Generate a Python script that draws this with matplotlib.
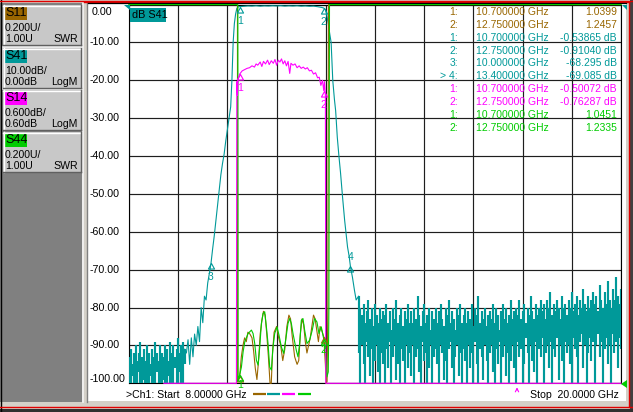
import numpy as np
import matplotlib.pyplot as plt
from matplotlib.patches import Rectangle, Polygon
from matplotlib.path import Path

plt.rcParams['font.family'] = ['Liberation Sans', 'DejaVu Sans']

W, H = 633, 412

# trace colours
C_S11, C_S41, C_S14, C_S44 = '#996600', '#009999', '#ff00ff', '#00cc00'

f_start, f_stop = 8.0, 20.0

# channel buttons on the left
ch_names = ['S11', 'S41', 'S14', 'S44']
ch_colors = [C_S11, C_S41, C_S14, C_S44]
ch_scale = ['0.200U/', '10.00dB/', '0.600dB/', '0.200U/']
ch_ref = ['1.00U', '0.00dB', '0.60dB', '1.00U']
ch_fmt = ['SWR', 'LogM', 'LogM', 'SWR']

# scale settings -> common 10 division grid (0 top, -100 bottom)
s14_div, s14_ref = 0.6, 0.6     # dB/div, ref at top
swr_div, swr_ref = 0.2, 1.0     # U/div, ref at bottom

# ---- S41 (dB) ----
# noise floor below the band, 8.00 .. 9.36 GHz, max / min per 0.04 GHz bin
s41_low_max = [-93, -91, -95, -92, -90, -94, -92, -89, -93, -91,
               -94, -90, -92, -95, -91, -93, -89, -92, -94, -90,
               -92, -93, -90, -91, -94, -89, -92, -90, -93, -91,
               -88, -92, -90, -89, -91]
s41_low_min = [-100, -100, -98, -100, -100, -100, -97, -100, -100, -99,
               -100, -100, -100, -98, -100, -100, -100, -97, -100, -100,
               -100, -99, -100, -100, -98, -100, -100, -100, -96, -100,
               -100, -97, -100, -100, -95]
# skirt / passband / skirt
s41_band_f = [9.40, 9.44, 9.48, 9.52, 9.56, 9.60, 9.64, 9.68, 9.72, 9.76,
              9.80, 9.84, 9.88, 9.92, 9.96, 10.00,
              10.04, 10.08, 10.12, 10.16, 10.20, 10.24, 10.28, 10.32, 10.36, 10.40, 10.44, 10.48,
              10.51, 10.54, 10.57, 10.60, 10.63, 10.66, 10.70,
              10.80, 10.90, 11.00, 11.10, 11.20, 11.30, 11.40, 11.50, 11.60, 11.70,
              11.80, 11.90, 12.00, 12.10, 12.20, 12.30, 12.40, 12.50, 12.60, 12.70,
              12.75, 12.79, 12.82, 12.86, 12.90, 12.93, 12.97, 13.01, 13.04, 13.08,
              13.12, 13.16, 13.21, 13.26, 13.30, 13.33, 13.37, 13.40, 13.45, 13.50, 13.54]
s41_band_db = [-92, -88.5, -95, -88, -93, -87, -90, -85, -89, -80,
               -84, -77, -78, -73.5, -71, -68.3,
               -64.5, -61, -57, -53, -49, -45, -42, -39.5, -36, -33, -30, -27,
               -20, -10, -5, -2.5, -1.0, -0.6, -0.54,
               -0.45, -0.35, -0.40, -0.30, -0.42, -0.33, -0.38, -0.30, -0.36, -0.28,
               -0.40, -0.32, -0.38, -0.30, -0.42, -0.35, -0.45, -0.40, -0.55, -0.75,
               -0.91, -1.3, -2.5, -5, -8, -10, -20, -25, -28, -35,
               -40, -44.5, -51, -57, -61, -64, -66.5, -69.1, -72, -75.5, -78]
# noise floor above the band, 13.60 .. 20.00 GHz, max / min per 0.04 GHz bin
s41_high_max = [
    -77, -80, -82, -79, -84, -81, -78, -83, -80, -85, -79, -82, -84, -80, -83, -81,
    -82, -79, -84, -81, -86, -80, -83, -78, -84, -82, -80, -85, -81, -83, -79, -84,
    -81, -84, -80, -83, -77, -82, -85, -81, -79, -84, -82, -80, -86, -81, -83, -80,
    -84, -81, -79, -83, -85, -80, -82, -78, -84, -81, -83, -86, -80, -82, -79, -84,
    -82, -80, -84, -81, -83, -79, -85, -80, -82, -77, -84, -81, -83, -80, -85, -82,
    -81, -83, -79, -84, -80, -82, -86, -81, -79, -83, -80, -84, -82, -78, -83, -81,
    -80, -82, -78, -83, -81, -79, -84, -80, -82, -77, -81, -83, -79, -82, -80, -78,
    -81, -79, -83, -78, -80, -76, -82, -79, -81, -78, -80, -83, -77, -80, -79, -82,
    -78, -80, -76, -81, -79, -77, -82, -78, -80, -75, -79, -81, -77, -80, -78, -76,
    -79, -77, -81, -74, -78, -80, -76, -79, -73, -78, -80, -75, -78, -72, -77, -79, -75]
s41_high_min = [
    -92, -100, -90, -95, -100, -89, -93, -98, -91, -100, -94, -90, -97, -100, -92, -95,
    -100, -91, -96, -89, -100, -93, -90, -99, -95, -100, -91, -94, -100, -90, -96, -92,
    -98, -90, -100, -93, -91, -97, -100, -89, -94, -92, -100, -96, -90, -100, -93, -91,
    -95, -100, -90, -92, -99, -94, -100, -91, -89, -96, -100, -93, -90, -98, -92, -100,
    -91, -94, -100, -90, -96, -92, -100, -89, -95, -100, -91, -93, -99, -90, -94, -100,
    -92, -90, -97, -100, -91, -95, -89, -100, -93, -90, -98, -92, -100, -94, -90, -96,
    -100, -89, -93, -91, -100, -95, -88, -92, -100, -90, -94, -97, -89, -100, -91, -93,
    -88, -100, -92, -90, -96, -89, -100, -91, -93, -88, -99, -90, -94, -100, -89, -92,
    -90, -95, -100, -88, -91, -93, -100, -89, -87, -96, -90, -100, -92, -88, -94, -89,
    -100, -90, -87, -93, -89, -100, -91, -88, -95, -90, -100, -87, -92, -89, -96, -88, -91]

# ---- S14 (dB) ----
s14_f = [8.85, 10.62, 10.63, 10.645, 10.66, 10.70,
         10.76, 10.82, 10.88, 10.94, 11.00, 11.06, 11.10, 11.14, 11.20, 11.24,
         11.28, 11.33, 11.38, 11.42, 11.47, 11.52, 11.56, 11.60, 11.64, 11.68,
         11.72, 11.76, 11.80, 11.84, 11.88, 11.92, 11.95, 12.00, 12.05, 12.10,
         12.15, 12.20, 12.25, 12.30, 12.35, 12.40, 12.45, 12.50, 12.55, 12.60,
         12.64, 12.68, 12.72, 12.75, 12.77, 12.79, 12.80, 20.00]
s14_db = [-40, -40, -0.62, -0.84, -0.58, -0.50072,
          -0.45, -0.43, -0.41, -0.40, -0.37, -0.39, -0.34, -0.36, -0.31, -0.38,
          -0.30, -0.34, -0.28, -0.35, -0.29, -0.33, -0.27, -0.36, -0.28, -0.31,
          -0.26, -0.34, -0.29, -0.37, -0.30, -0.49, -0.33, -0.36, -0.34, -0.40,
          -0.37, -0.41, -0.39, -0.42, -0.40, -0.45, -0.44, -0.50, -0.48, -0.56,
          -0.55, -0.68, -0.60, -0.76287, -0.62, -0.85, -40, -40]

# ---- S11 (SWR) ----
s11_f = [8.00, 10.645, 10.65, 10.70, 10.74, 10.78, 10.82, 10.86, 10.90, 10.95,
         11.00, 11.04, 11.08, 11.12, 11.16, 11.20, 11.24, 11.28, 11.32, 11.36,
         11.40, 11.44, 11.47, 11.50, 11.54, 11.60, 11.65, 11.70, 11.75, 11.80,
         11.85, 11.90, 11.94, 11.98, 12.04, 12.10, 12.14, 12.18, 12.22, 12.26,
         12.30, 12.34, 12.38, 12.42, 12.46, 12.50, 12.54, 12.58, 12.62, 12.66,
         12.70, 12.75, 12.79, 12.81, 12.83, 12.85, 12.865, 20.00]
s11_swr = [6.0, 6.0, 1.01, 1.0399, 1.14, 1.20, 1.24, 1.22, 1.27, 1.26,
           1.24, 1.17, 1.08, 1.02, 1.12, 1.26, 1.33, 1.38, 1.36, 1.26,
           1.14, 1.00, 1.00, 1.16, 1.27, 1.30, 1.24, 1.20, 1.12, 1.18,
           1.30, 1.36, 1.34, 1.25, 1.14, 1.10, 1.12, 1.26, 1.34, 1.31,
           1.22, 1.16, 1.20, 1.24, 1.30, 1.36, 1.34, 1.28, 1.22, 1.30,
           1.28, 1.2457, 1.10, 1.00, 1.01, 1.40, 6.0, 6.0]

# ---- S44 (SWR) ----
s44_f = [8.00, 10.655, 10.661, 10.70, 10.742, 10.783, 10.824, 10.905, 10.986, 11.026,
         11.067, 11.107, 11.148, 11.189, 11.229, 11.27, 11.31, 11.351, 11.391, 11.432,
         11.473, 11.513, 11.554, 11.61, 11.659, 11.716, 11.773, 11.821, 11.878, 11.919,
         11.96, 12.00, 12.081, 12.122, 12.162, 12.203, 12.243, 12.284, 12.341, 12.406,
         12.47, 12.527, 12.584, 12.633, 12.69, 12.75, 12.795, 12.828, 12.86, 12.876,
         12.89, 20.00]
s44_swr = [6.0, 6.0, 1.016, 1.0451, 1.086, 1.166, 1.219, 1.263, 1.281, 1.263,
           1.21, 1.122, 1.096, 1.192, 1.316, 1.369, 1.378, 1.298, 1.21, 1.086,
           1.07, 1.192, 1.263, 1.298, 1.254, 1.192, 1.158, 1.228, 1.316, 1.342,
           1.316, 1.263, 1.174, 1.14, 1.21, 1.332, 1.342, 1.281, 1.21, 1.228,
           1.281, 1.342, 1.324, 1.263, 1.298, 1.2335, 1.14, 1.034, 1.06, 1.404,
           6.0, 6.0]

# ---- markers ----
s11_mkr_f, s11_mkr_v = [10.7, 12.75], [1.0399, 1.2457]
s41_mkr_f, s41_mkr_v = [10.7, 12.75, 10.0, 13.4], [-0.53865, -0.91040, -68.295, -69.085]
s14_mkr_f, s14_mkr_v = [10.7, 12.75], [-0.50072, -0.76287]
s44_mkr_f, s44_mkr_v = [10.7, 12.75], [1.0451, 1.2335]
mkr_tags = ['1:', '2:', '1:', '2:', '3:', '> 4:', '1:', '2:', '1:', '2:']


def g_s14(v):
    return (np.asarray(v, float) - s14_ref) / s14_div * 10


def g_swr(v):
    return (np.asarray(v, float) - swr_ref) / swr_div * 10 - 100


def clip(g):
    return np.clip(np.asarray(g, float), -100, 0)


fig = plt.figure(figsize=(W / 100, H / 100), dpi=100)
fig.patch.set_facecolor('#d4d0c8')

# window chrome in pixel coordinates
ui = fig.add_axes([0, 0, 1, 1], zorder=0)
ui.set_xlim(0, W)
ui.set_ylim(H, 0)
ui.axis('off')
ui.add_patch(Rectangle((0, 3), 82, 399, fc='#808080', ec='none'))
ui.add_patch(Rectangle((88, 3.5), 538, 397, fc='white', ec='none'))
ui.plot([82.5, 82.5], [3, 402], color='#f4f4f4', lw=1.2)
ui.plot([86.8, 86.8], [3, 402], color='#808080', lw=1.0)
ui.plot([0.5, 0.5], [0, 412], color='black', lw=1.0)
ui.plot([0, W], [0.6, 0.6], color='#e00000', lw=1.0)
ui.plot([84, 629], [2.3, 2.3], color='#e00000', lw=1.0)
ui.plot([88, 626], [3.4, 3.4], color='black', lw=0.9)
ui.plot([629, 629], [2.3, 407], color='#e00000', lw=1.0)
ui.add_patch(Rectangle((630, 0), 3, 412, fc='#404040', ec='none'))
ui.plot([0, W], [407, 407], color='#e00000', lw=1.0)
ui.add_patch(Rectangle((0, 408.5), W, 4, fc='#303030', ec='none'))

# channel buttons
btn_top = [5, 48, 90, 132]
for i, name in enumerate(ch_names):
    y0 = btn_top[i]
    ui.add_patch(Rectangle((3, y0), 78, 40, fc='#c8c8c8', ec='none'))
    ui.plot([3, 81], [y0 + 0.5, y0 + 0.5], color='white', lw=1)
    ui.plot([3.5, 3.5], [y0, y0 + 40], color='white', lw=1)
    ui.plot([3, 81], [y0 + 39.5, y0 + 39.5], color='#606060', lw=1)
    ui.plot([80.5, 80.5], [y0, y0 + 40], color='#606060', lw=1)
    if name == 'S41':
        ui.add_patch(Rectangle((2, y0 - 1), 80, 42, fc='none', ec='white', lw=1.2))
    ui.add_patch(Rectangle((4.5, y0 + 1.2), 22.5, 13.3, fc=ch_colors[i], ec='none'))
    ui.text(5.5, y0 + 8.2, name, fontsize=9, va='center', ha='left', color='black')
    ui.text(5, y0 + 22.8, ch_scale[i], fontsize=7.6, va='center', ha='left')
    ui.text(5, y0 + 34, ch_ref[i], fontsize=7.6, va='center', ha='left')
    ui.text(78, y0 + 34, ch_fmt[i], fontsize=7.6, va='center', ha='right')

# measurement grid
y_top, y_bot = 4.6, 383.3
ax = fig.add_axes([129 / W, 1 - y_bot / H, (621 - 129) / W, (y_bot - y_top) / H], zorder=2)
ax.set_facecolor('white')
ax.set_xlim(f_start, f_stop)
ax.set_ylim(-100, 0)
ax.set_xticks(np.linspace(f_start, f_stop, 11))
ax.set_yticks(np.arange(-100, 1, 10))
ax.tick_params(length=0, labelleft=False, labelbottom=False)
ax.grid(True, color='#1e1e1e', lw=0.85)
ax.set_axisbelow(True)
for sp in ax.spines.values():
    sp.set_color('black')
    sp.set_linewidth(0.8)

# S41: noise floors as min/max per bin (dense sweep), the rest as a line
f_low = np.linspace(8.0, 9.36, len(s41_low_max))
f_high = np.linspace(13.60, 20.0, len(s41_high_max))
ax.vlines(f_low, clip(s41_low_min), clip(s41_low_max), color=C_S41, lw=1.55, zorder=3)
ax.vlines(f_high, clip(s41_high_min), clip(s41_high_max), color=C_S41, lw=1.55, zorder=3)
band_f = np.concatenate([[f_low[-1]], s41_band_f, [f_high[0]]])
band_db = np.concatenate([[s41_low_max[-1]], s41_band_db, [s41_high_max[0]]])
ax.plot(band_f, clip(band_db), color=C_S41, lw=0.8, zorder=3, clip_on=False)

ax.plot(s11_f, clip(g_swr(s11_swr)), color=C_S11, lw=0.8, zorder=4, clip_on=False)
ax.plot(s44_f, clip(g_swr(s44_swr)), color=C_S44, lw=0.8, zorder=5, clip_on=False)
ax.plot(s14_f, clip(g_s14(s14_db)), color=C_S14, lw=0.8, zorder=6, clip_on=False)

# marker glyphs: open triangle with its tip on the trace
tri = Path([(0, 0), (-0.55, -1), (0.55, -1), (0, 0)],
           [Path.MOVETO, Path.LINETO, Path.LINETO, Path.CLOSEPOLY])
mk_sets = [(s41_mkr_f, clip(s41_mkr_v), C_S41, True),
           (s14_mkr_f, clip(g_s14(s14_mkr_v)), C_S14, True),
           (s11_mkr_f, clip(g_swr(s11_mkr_v)), C_S11, False),   # numbers hidden under S44
           (s44_mkr_f, clip(g_swr(s44_mkr_v)), C_S44, True)]
for mf, mg, col, numbered in mk_sets:
    ax.plot(mf, mg, ls='none', marker=tri, ms=8, mfc='none', mec=col, mew=0.8,
            zorder=7, clip_on=False)
    if not numbered:
        continue
    for k, (xf, yg) in enumerate(zip(mf, mg)):
        if col == C_S41 and k == 3:
            dy = 7
        elif col == C_S44:
            dy = -7.5
        else:
            dy = -10
        ax.annotate(str(k + 1), (xf, yg), xytext=(0, dy), textcoords='offset points',
                    ha='center', va='center', fontsize=7.5, color=col,
                    annotation_clip=False, zorder=7)

# grid value labels on the left
for g in np.arange(0, -101, -10):
    dx = -27.0 if g == 0 else -28.2
    dy = -5.5 if g == 0 else (3.0 if g == -100 else 0)
    ax.annotate(f"{g:.2f}", xy=(0, g), xycoords=ax.get_yaxis_transform(),
                xytext=(dx, dy), textcoords='offset points', ha='left', va='center',
                fontsize=7.7, annotation_clip=False)

# overlay: labels, marker table, indicators
top = fig.add_axes([0, 0, 1, 1], zorder=4)
top.set_xlim(0, W)
top.set_ylim(H, 0)
top.axis('off')

top.add_patch(Rectangle((130, 8), 36, 13.5, fc=C_S41, ec='none'))
top.text(132, 14.8, 'dB S41', fontsize=7.8, va='center', ha='left', color='black')
top.add_patch(Polygon([(124, 4.5), (130, 4.5), (130, 9.5)], closed=True, fc=C_S41, ec='none'))
top.add_patch(Polygon([(621.5, 4.5), (627, 4.5), (627, 10)], closed=True, fc=C_S41, ec='none'))
top.add_patch(Polygon([(621, 384), (627, 380), (627, 388)], closed=True, fc=C_S44, ec='none'))

tbl_f = s11_mkr_f + s41_mkr_f + s14_mkr_f + s44_mkr_f
tbl_v = s11_mkr_v + s41_mkr_v + s14_mkr_v + s44_mkr_v
tbl_unit = ['', ''] + [' dB'] * 4 + [' dB'] * 2 + ['', '']
tbl_col = [C_S11] * 2 + [C_S41] * 4 + [C_S14] * 2 + [C_S44] * 2
for r, (tag, fq, v, u, col) in enumerate(zip(mkr_tags, tbl_f, tbl_v, tbl_unit, tbl_col)):
    y = 11.8 + 12.9 * r
    top.text(458, y, tag, color=col, fontsize=7.5, ha='right', va='center')
    top.text(476, y, f"{fq:.6f} GHz", color=col, fontsize=7.5, ha='left', va='center')
    top.text(617, y, f"{v:#.5g}{u}", color=col, fontsize=7.5, ha='right', va='center')

# status line
top.text(126.5, 395, f">Ch1: Start  {f_start:.5f} GHz", fontsize=7.6, ha='left', va='center')
top.text(619, 395, f"Stop  {f_stop:.4f} GHz", fontsize=7.6, ha='right', va='center')
seg_x = [253, 267, 282, 298]
for sx, col in zip(seg_x, [C_S11, C_S41, C_S14, C_S44]):
    top.plot([sx, sx + 12.5], [393.5, 393.5], color=col, lw=1.6, solid_capstyle='butt')
top.annotate('', xy=(517, 384.5), xytext=(517, 393),
             arrowprops=dict(arrowstyle='->', color=C_S14, lw=0.8, mutation_scale=6))

fig.savefig('out.png', dpi=100)
